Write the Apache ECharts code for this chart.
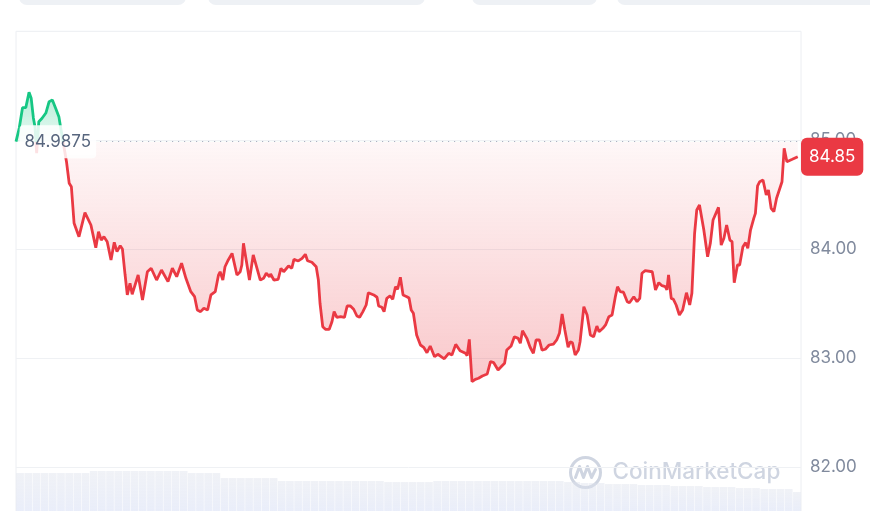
<!DOCTYPE html>
<html><head><meta charset="utf-8">
<script src="https://cdn.jsdelivr.net/npm/echarts@6/dist/echarts.min.js"></script>
<style>html,body{margin:0;padding:0;background:#fff;overflow:hidden}#c{width:870px;height:511px}</style>
</head><body><div id="c"></div>
<script>
const basePrice = 84.9875;
const lastPrice = 84.85;
const minutes = [
0,6,12,18,24,28,32,35,38,42,
48,55,61,67,73,79,82,93,98,102,
107,116,127,138,147,152,157,162,168,175,
181,186,192,196,201,205,210,214,225,233,
242,249,259,268,280,288,296,305,313,322,
329,334,340,346,353,359,367,373,376,381,
385,391,398,400,407,413,416,419,424,430,
437,440,450,456,461,467,469,475,483,488,
493,502,508,512,520,527,533,537,545,553,
557,560,565,570,577,582,586,591,598,605,
610,616,622,628,633,639,645,649,659,665,
668,674,678,683,689,694,699,703,708,713,
720,724,728,732,738,745,751,757,763,771,
777,785,789,797,803,810,818,828,831,835,
840,846,852,859,868,874,880,888,895,900,
904,912,918,925,929,933,941,947,953,958,
964,969,975,982,990,996,1001,1006,1011,1017,
1021,1025,1030,1036,1039,1046,1052,1058,1064,1070,
1074,1081,1086,1092,1098,1104,1108,1113,1119,1126,
1130,1138,1144,1149,1153,1159,1172,1178,1184,1190,
1196,1199,1202,1207,1211,1216,1222,1228,1235,1241,
1245,1250,1254,1259,1267,1274,1279,1284,1294,1299,
1304,1309,1315,1319,1323,1329,1333,1339,1344,1348,
1353,1359,1362,1366,1370,1376,1382,1386,1391,1396,
1401,1406,1411,1415,1420,1430,1440
];
const prices = [
84.9875,85.113,85.299,85.299,85.440,85.385,85.205,85.125,84.883,85.171,
85.202,85.250,85.354,85.370,85.294,85.217,85.125,84.804,84.606,84.574,
84.239,84.116,84.336,84.223,84.015,84.161,84.085,84.116,84.070,83.902,
84.064,83.978,84.033,84.003,83.764,83.581,83.688,83.587,83.764,83.535,
83.794,83.826,83.718,83.810,83.703,83.826,83.749,83.872,83.734,83.611,
83.565,83.443,83.428,83.459,83.443,83.581,83.611,83.764,83.794,83.718,
83.840,83.902,83.963,83.948,83.764,83.794,83.856,84.055,83.902,83.718,
83.948,83.940,83.718,83.734,83.780,83.749,83.773,83.718,83.725,83.826,
83.794,83.847,83.826,83.908,83.893,83.917,83.954,83.895,83.881,83.840,
83.718,83.505,83.290,83.266,83.266,83.336,83.428,83.376,83.382,83.376,
83.480,83.480,83.450,83.388,83.376,83.428,83.489,83.602,83.581,83.560,
83.480,83.468,83.428,83.550,83.572,83.541,83.657,83.633,83.743,83.581,
83.565,83.553,83.443,83.413,83.214,83.122,83.101,83.051,83.113,83.015,
83.037,83.009,82.996,83.046,83.030,83.128,83.070,83.046,83.024,83.174,
82.785,82.807,82.817,82.838,82.856,82.969,82.960,82.893,82.929,82.954,
83.076,83.113,83.198,83.183,83.138,83.253,83.183,83.101,83.046,83.168,
83.168,83.076,83.083,83.122,83.131,83.168,83.229,83.406,83.260,83.101,
83.152,83.143,83.030,83.076,83.152,83.473,83.397,83.214,83.198,83.296,
83.244,83.275,83.306,83.382,83.397,83.565,83.657,83.611,83.606,83.519,
83.510,83.565,83.519,83.550,83.780,83.804,83.794,83.627,83.694,83.666,
83.657,83.627,83.764,83.550,83.541,83.489,83.397,83.443,83.602,83.489,
83.596,84.147,84.361,84.406,84.177,83.932,84.055,84.269,84.385,84.039,
84.101,84.223,84.085,84.070,83.694,83.856,83.856,84.024,84.061,84.009,
84.177,84.284,84.330,84.581,84.620,84.636,84.498,84.544,84.376,84.345,
84.468,84.544,84.620,84.927,84.804,84.826,84.85
];
const yTickLabels = [82, 83, 84, 85];
const volumes = [
38,38,38,38,38,38,38,38,38,40,
40,40,40,40,40,40,40,40,40,40,
40,38,38,38,38,33,33,33,33,33,
33,33,30,30,30,30,30,30,30,30,
30,30,30,30,30,29,29,29,29,29,
29,30,30,30,30,30,30,30,30,30,
30,30,30,30,30,30,30,29,29,28,
28,28,27,27,27,27,26,26,26,26,
25,25,25,25,24,24,24,24,23,23,
23,22,22,22,22,19
];
const volumeSlots = volumes.map((v, i) => i);

const GREEN = '#16c784', RED = '#ea3943';
const chart = echarts.init(document.getElementById('c'), null, {renderer: 'canvas'});
const priceData = minutes.map((m, i) => [m, prices[i]]);

const option = {
  animation: false,
  grid: [
    {left: 16, right: 69, top: 31.3, bottom: -65.3, outerBoundsMode: 'none', containLabel: false,
     show: true, borderColor: '#eceef2', borderWidth: 1, backgroundColor: 'transparent'},
    {left: 16, right: 69, top: 462, bottom: 0, outerBoundsMode: 'none', containLabel: false}
  ],
  xAxis: [
    {type: 'value', gridIndex: 0, min: 0, max: 1446, show: false},
    {type: 'category', gridIndex: 1, data: volumeSlots, show: false, boundaryGap: true}
  ],
  yAxis: [
    {type: 'value', gridIndex: 0, position: 'right', min: 81, max: 86, interval: 1,
     axisLine: {show: false}, axisTick: {show: false},
     splitLine: {lineStyle: {color: '#eff1f4', width: 1}},
     axisLabel: {margin: 9, color: '#808a9d', fontSize: 17, fontFamily: 'Inter',
       formatter: v => yTickLabels.indexOf(v) >= 0 ? v.toFixed(2) : ''}},
    {type: 'value', gridIndex: 1, min: 0, max: 49, show: false}
  ],
  visualMap: {
    type: 'piecewise', show: false, seriesIndex: 0, dimension: 1,
    pieces: [{gt: basePrice, lte: 90, color: GREEN}, {gte: 80, lte: basePrice, color: RED}],
    outOfRange: {color: RED}
  },
  series: [
    {
      id: 'price', type: 'line', xAxisIndex: 0, yAxisIndex: 0, data: priceData,
      showSymbol: false, symbol: 'none', smooth: false,
      lineStyle: {width: 2.8},
      areaStyle: {origin: basePrice, color: 'rgba(234,57,67,0.12)', opacity: 1},
      z: 3,
      markLine: {
        silent: true, symbol: ['none', 'none'], animation: false,
        data: [
          [{coord: [155, basePrice], lineStyle: {type: [1, 5], color: '#a1a7bb', width: 1},
            label: {show: true, position: 'start', distance: 4, formatter: String(basePrice),
              color: '#58667e', fontSize: 17, fontFamily: 'Inter',
              backgroundColor: 'rgba(255,255,255,0.85)', padding: [8, 5], borderRadius: 4}},
           {coord: [1446, basePrice]}],
          [{coord: [0, lastPrice], lineStyle: {color: 'rgba(0,0,0,0)', width: 1, opacity: 1},
            label: {show: true, position: 'end', distance: 0, formatter: lastPrice.toFixed(2),
              color: '#ffffff', fontSize: 17, fontFamily: 'Inter', opacity: 1,
              backgroundColor: RED, padding: [12, 8, 9, 8], borderRadius: 6}},
           {coord: [1446, lastPrice]}]
        ]
      }
    },
    {
      type: 'bar', xAxisIndex: 1, yAxisIndex: 1, data: volumes, barCategoryGap: '6%',
      itemStyle: {color: {type: 'linear', x: 0, y: 0, x2: 0, y2: 1, colorStops: [
        {offset: 0, color: 'rgba(222,226,236,0.45)'}, {offset: 1, color: 'rgba(212,220,244,0.5)'}]}},
      silent: true, z: 1
    }
  ],
  graphic: [
    {type: 'rect', shape: {x: 19, y: -12, width: 167, height: 17, r: 8}, style: {fill: '#eef1f5'}, silent: true},
    {type: 'rect', shape: {x: 208, y: -12, width: 217, height: 17, r: 8}, style: {fill: '#eef1f5'}, silent: true},
    {type: 'rect', shape: {x: 472, y: -12, width: 125, height: 17, r: 8}, style: {fill: '#eef1f5'}, silent: true},
    {type: 'rect', shape: {x: 617, y: -12, width: 270, height: 17, r: 8}, style: {fill: '#eef1f5'}, silent: true},
    {type: 'group', left: 568, top: 455, silent: true, z: 10, children: [
      {type: 'circle', shape: {cx: 17, cy: 17, r: 15}, style: {fill: 'none', stroke: '#cfd5e1', lineWidth: 3}},
      {type: 'polyline', shape: {points: [[7, 22], [11, 11], [15, 22], [19, 11], [23, 22], [27, 14]]},
       style: {fill: 'none', stroke: '#cfd5e1', lineWidth: 3, lineJoin: 'round', lineCap: 'round'}},
      {type: 'text', x: 44, y: 5, style: {text: 'CoinMarketCap', fill: '#cfd5e1', font: '500 22.5px Inter'}}
    ]}
  ]
};

chart.setOption(option);
try {
  const pTop = chart.convertToPixel({yAxisIndex: 0}, Math.max.apply(null, prices));
  const pBase = chart.convertToPixel({yAxisIndex: 0}, basePrice);
  const pBot = chart.convertToPixel({yAxisIndex: 0}, Math.min.apply(null, prices));
  const k = (pBase - pTop) / (pBot - pTop);
  option.series[0].areaStyle.color = {
    type: 'linear', x: 0, y: pTop, x2: 0, y2: pBot, global: true,
    colorStops: [
      {offset: 0, color: 'rgba(22,199,132,0.32)'},
      {offset: k, color: 'rgba(22,199,132,0.10)'},
      {offset: k, color: 'rgba(234,57,67,0.04)'},
      {offset: 1, color: 'rgba(234,57,67,0.28)'}
    ]};
  chart.setOption(option, true);
} catch (e) { console.error(e); }
</script></body></html>
